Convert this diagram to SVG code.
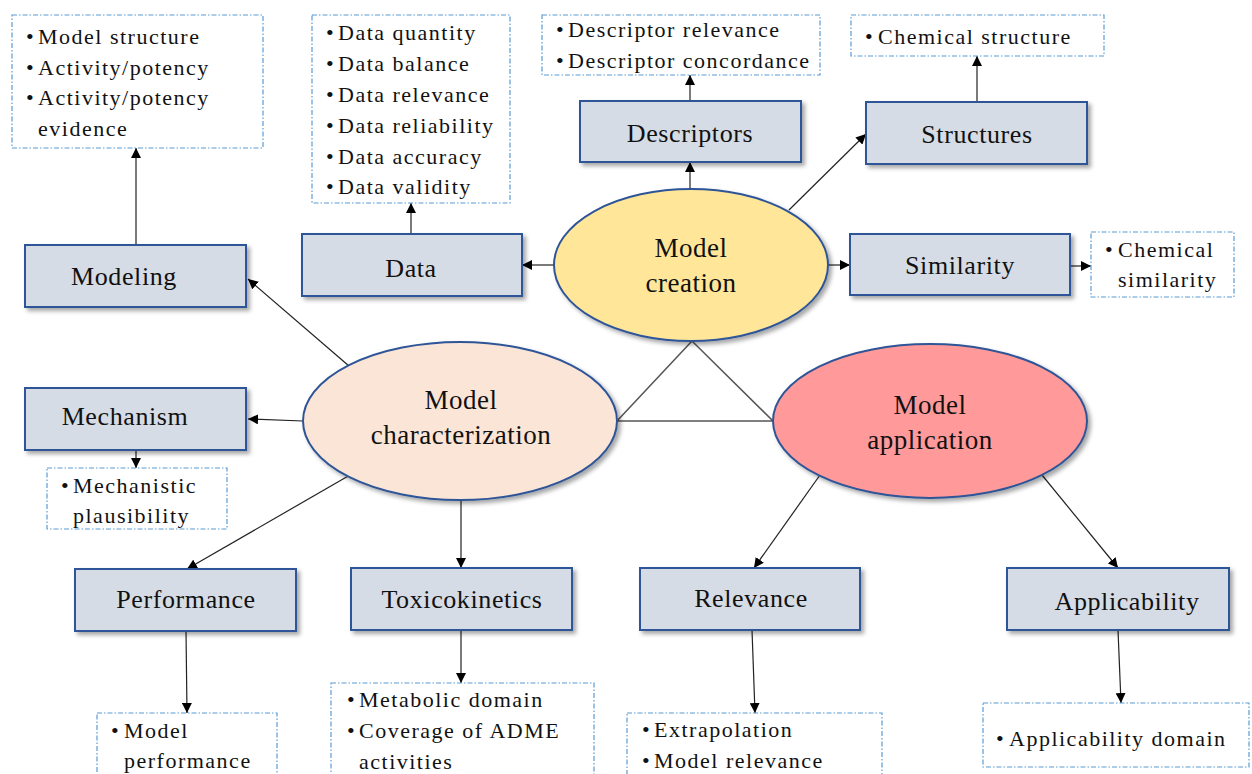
<svg xmlns="http://www.w3.org/2000/svg" width="1252" height="774" viewBox="0 0 1252 774">
  <defs>
    <filter id="shadow" x="-10%" y="-10%" width="125%" height="130%">
      <feDropShadow dx="3" dy="3" stdDeviation="2" flood-color="#000" flood-opacity="0.35"/>
    </filter>
    <marker id="arrow" viewBox="0 0 10 10" refX="10" refY="5" markerWidth="10" markerHeight="10" markerUnits="userSpaceOnUse" orient="auto">
      <path d="M0,0 L10,5 L0,10 z" fill="#000"/>
    </marker>
    <style>
      .box { fill: #D6DCE5; stroke: #2F5597; stroke-width: 2; filter: url(#shadow); }
      .ell { stroke: #2F5597; stroke-width: 2; filter: url(#shadow); }
      .note { fill: #fff; stroke: #5B9BD5; stroke-width: 1.2; stroke-dasharray: 5 2 1.5 2; }
      .lbl { font-family: "Liberation Serif", "Times New Roman", serif; font-size: 26px; fill: #111; letter-spacing: 0.6px; text-anchor: middle; }
      .big { font-family: "Liberation Serif", "Times New Roman", serif; font-size: 27px; fill: #111; letter-spacing: 0.5px; text-anchor: middle; }
      .lst { font-family: "Liberation Serif", "Times New Roman", serif; font-size: 22px; fill: #111; letter-spacing: 1.5px; }
      .con { stroke: #222; stroke-width: 1.2; fill: none; marker-end: url(#arrow); }
      .tri { stroke: #555; stroke-width: 1.5; fill: none; }
    </style>
  </defs>
  <rect width="1252" height="774" fill="#fff"/>

  <!-- connectors -->
  <g id="connectors">
    <polygon class="tri" points="692,341 617,421 773,421"/>
    <line class="con" x1="554" y1="265" x2="522" y2="265"/>
    <line class="con" x1="828" y1="265" x2="850" y2="265"/>
    <line class="con" x1="690" y1="190" x2="690" y2="162"/>
    <line class="con" x1="789" y1="210" x2="866" y2="134"/>
    <line class="con" x1="690" y1="101" x2="690" y2="75"/>
    <line class="con" x1="977" y1="102" x2="977" y2="56"/>
    <line class="con" x1="1070" y1="266" x2="1091" y2="266"/>
    <line class="con" x1="411" y1="234" x2="411" y2="203"/>
    <line class="con" x1="136" y1="245" x2="136" y2="148"/>
    <line class="con" x1="349" y1="366" x2="248" y2="279"/>
    <line class="con" x1="303" y1="421" x2="248" y2="419"/>
    <line class="con" x1="136" y1="450" x2="136" y2="468"/>
    <line class="con" x1="350" y1="475" x2="187" y2="569"/>
    <line class="con" x1="461" y1="498" x2="461" y2="568"/>
    <line class="con" x1="461" y1="630" x2="461" y2="683"/>
    <line class="con" x1="186" y1="631" x2="187" y2="713"/>
    <line class="con" x1="820" y1="475" x2="754" y2="568"/>
    <line class="con" x1="1042" y1="475" x2="1118" y2="568"/>
    <line class="con" x1="752" y1="630" x2="755" y2="713"/>
    <line class="con" x1="1118" y1="630" x2="1121" y2="703"/>
  </g>

  <!-- central ellipses -->
  <g id="model-creation">
    <ellipse class="ell" cx="691" cy="265" rx="137" ry="76" fill="#FFE699"/>
    <text class="big" x="691" y="257">Model</text>
    <text class="big" x="691" y="292">creation</text>
  </g>
  <g id="model-characterization">
    <ellipse class="ell" cx="460" cy="421" rx="157" ry="79" fill="#FBE5D6"/>
    <text class="big" x="461" y="409">Model</text>
    <text class="big" x="461" y="444">characterization</text>
  </g>
  <g id="model-application">
    <ellipse class="ell" cx="930" cy="421" rx="157" ry="77" fill="#FF999A"/>
    <text class="big" x="930" y="414">Model</text>
    <text class="big" x="930" y="449">application</text>
  </g>

  <!-- category boxes -->
  <g id="modeling">
    <rect class="box" x="25" y="245" width="221" height="62"/>
    <text class="lbl" x="124" y="285">Modeling</text>
  </g>
  <g id="data">
    <rect class="box" x="302" y="234" width="220" height="62"/>
    <text class="lbl" x="411" y="277">Data</text>
  </g>
  <g id="descriptors">
    <rect class="box" x="580" y="101" width="221" height="61"/>
    <text class="lbl" x="690" y="142">Descriptors</text>
  </g>
  <g id="structures">
    <rect class="box" x="866" y="102" width="221" height="62"/>
    <text class="lbl" x="977" y="143">Structures</text>
  </g>
  <g id="similarity">
    <rect class="box" x="850" y="234" width="220" height="61"/>
    <text class="lbl" x="960" y="274">Similarity</text>
  </g>
  <g id="mechanism">
    <rect class="box" x="25" y="388" width="221" height="62"/>
    <text class="lbl" x="125" y="425">Mechanism</text>
  </g>
  <g id="performance">
    <rect class="box" x="75" y="569" width="221" height="62"/>
    <text class="lbl" x="186" y="608">Performance</text>
  </g>
  <g id="toxicokinetics">
    <rect class="box" x="351" y="568" width="221" height="62"/>
    <text class="lbl" x="462" y="608">Toxicokinetics</text>
  </g>
  <g id="relevance">
    <rect class="box" x="640" y="568" width="220" height="62"/>
    <text class="lbl" x="751" y="607">Relevance</text>
  </g>
  <g id="applicability">
    <rect class="box" x="1007" y="568" width="222" height="62"/>
    <text class="lbl" x="1127" y="610">Applicability</text>
  </g>

  <!-- criteria lists -->
  <g id="note-modeling">
    <rect class="note" x="12" y="15" width="251" height="133"/>
    <text class="lst"><tspan x="26" y="44">•</tspan><tspan x="38" y="44">Model structure</tspan><tspan x="26" y="74.5">•</tspan><tspan x="38" y="74.5">Activity/potency</tspan><tspan x="26" y="105">•</tspan><tspan x="38" y="105">Activity/potency</tspan><tspan x="38" y="135.5">evidence</tspan></text>
  </g>
  <g id="note-data">
    <rect class="note" x="312" y="15" width="198" height="188"/>
    <text class="lst"><tspan x="326" y="40">•</tspan><tspan x="338" y="40">Data quantity</tspan><tspan x="326" y="71">•</tspan><tspan x="338" y="71">Data balance</tspan><tspan x="326" y="102">•</tspan><tspan x="338" y="102">Data relevance</tspan><tspan x="326" y="133">•</tspan><tspan x="338" y="133">Data reliability</tspan><tspan x="326" y="164">•</tspan><tspan x="338" y="164">Data accuracy</tspan><tspan x="326" y="194">•</tspan><tspan x="338" y="194">Data validity</tspan></text>
  </g>
  <g id="note-descriptors">
    <rect class="note" x="542" y="15" width="278" height="60"/>
    <text class="lst"><tspan x="556" y="37">•</tspan><tspan x="568" y="37">Descriptor relevance</tspan><tspan x="556" y="68">•</tspan><tspan x="568" y="68">Descriptor concordance</tspan></text>
  </g>
  <g id="note-structures">
    <rect class="note" x="851" y="15" width="253" height="41"/>
    <text class="lst"><tspan x="865" y="44">•</tspan><tspan x="878" y="44">Chemical structure</tspan></text>
  </g>
  <g id="note-similarity">
    <rect class="note" x="1091" y="232" width="143" height="65"/>
    <text class="lst"><tspan x="1105" y="257">•</tspan><tspan x="1118" y="257">Chemical</tspan><tspan x="1118" y="287">similarity</tspan></text>
  </g>
  <g id="note-mechanism">
    <rect class="note" x="47" y="468" width="180" height="61"/>
    <text class="lst"><tspan x="61" y="493">•</tspan><tspan x="73" y="493">Mechanistic</tspan><tspan x="73" y="523">plausibility</tspan></text>
  </g>
  <g id="note-performance">
    <rect class="note" x="97" y="713" width="180" height="70"/>
    <text class="lst"><tspan x="111" y="738">•</tspan><tspan x="124" y="738">Model</tspan><tspan x="124" y="768">performance</tspan></text>
  </g>
  <g id="note-toxicokinetics">
    <rect class="note" x="331" y="683" width="263" height="100"/>
    <text class="lst"><tspan x="347" y="707">•</tspan><tspan x="359" y="707">Metabolic domain</tspan><tspan x="347" y="738">•</tspan><tspan x="359" y="738">Coverage of ADME</tspan><tspan x="359" y="769">activities</tspan></text>
  </g>
  <g id="note-relevance">
    <rect class="note" x="627" y="713" width="255" height="70"/>
    <text class="lst"><tspan x="642" y="737">•</tspan><tspan x="654" y="737">Extrapolation</tspan><tspan x="642" y="768">•</tspan><tspan x="654" y="768">Model relevance</tspan></text>
  </g>
  <g id="note-applicability">
    <rect class="note" x="983" y="703" width="266" height="64"/>
    <text class="lst"><tspan x="996" y="746">•</tspan><tspan x="1009" y="746">Applicability domain</tspan></text>
  </g>
</svg>
